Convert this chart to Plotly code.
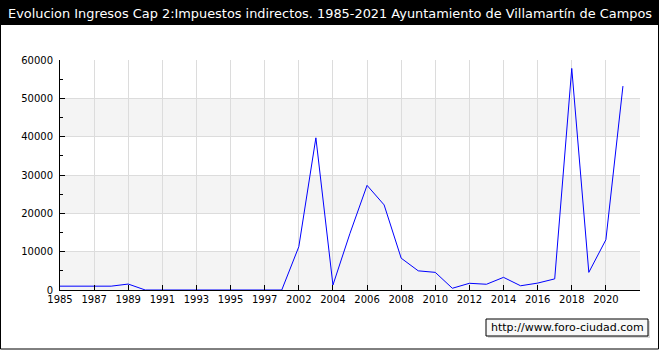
import plotly.graph_objects as go

# ---- data ----
years = ["1985", "1986", "1987", "1988", "1989", "1990", "1991", "1992", "1993",
         "1994", "1995", "1996", "1997", "2001", "2002", "2003", "2004", "2005",
         "2006", "2007", "2008", "2009", "2010", "2011", "2012", "2013", "2014",
         "2015", "2016", "2017", "2018", "2019", "2020", "2021"]
values = [1000, 1000, 1000, 1000, 1550, 0, 0, 0, 0,
          0, 0, 0, 0, 0, 11300, 39700, 1300, 14800,
          27300, 22200, 8300, 5000, 4600, 450, 1750, 1500, 3300,
          1100, 1800, 2900, 57800, 4600, 13100, 53200]
y_ticks = [0, 10000, 20000, 30000, 40000, 50000, 60000]
title_text = "Evolucion Ingresos Cap 2:Impuestos indirectos. 1985-2021 Ayuntamiento de Villamartín de Campos"
watermark = "http://www.foro-ciudad.com"

# ---- layout geometry ----
W, H = 660, 350
L, R, T, B = 60, 20, 60, 60
PW, PH = W - L - R, H - T - B


def px(x):
    return (x - L) / PW


def py(y):
    return (H - B - y) / PH


xs = list(range(len(years)))
tickvals = list(range(0, len(years) + 1, 2))
ticktext = [years[i] if i < len(years) else "" for i in tickvals]

fig = go.Figure()
fig.add_trace(go.Scatter(x=xs, y=values, mode="lines",
                         line=dict(color="#0000ff", width=1),
                         hoverinfo="skip", showlegend=False))

shapes = []
# alternating bands
for i in range(0, len(y_ticks) - 1, 2):
    shapes.append(dict(type="rect", xref="x domain", yref="y",
                       x0=0, x1=1, y0=y_ticks[i], y1=y_ticks[i + 1],
                       fillcolor="#f4f4f4", line=dict(width=0), layer="below"))
# title bar
shapes.append(dict(type="rect", xref="paper", yref="paper",
                   x0=px(0), x1=px(659), y0=py(0), y1=py(25),
                   fillcolor="black", line=dict(width=0), layer="below"))
# outer frame
shapes.append(dict(type="rect", xref="paper", yref="paper",
                   x0=px(0.5), x1=px(658.5), y0=py(0.5), y1=py(349),
                   fillcolor="rgba(0,0,0,0)", line=dict(color="black", width=1)))
# watermark shadow and box
shapes.append(dict(type="rect", xref="paper", yref="paper",
                   x0=px(488), x1=px(650), y0=py(321), y1=py(338),
                   fillcolor="#d8d8d8", line=dict(width=0)))
shapes.append(dict(type="rect", xref="paper", yref="paper",
                   x0=px(486), x1=px(648), y0=py(319), y1=py(336),
                   fillcolor="#f8f8f8", line=dict(color="black", width=1)))

annotations = [
    dict(text=title_text, xref="paper", yref="paper", x=px(329.5), y=py(13),
         xanchor="center", yanchor="middle", showarrow=False,
         font=dict(family="DejaVu Sans", size=12.9, color="white")),
    dict(text=watermark, xref="paper", yref="paper", x=px(567), y=py(327.5),
         xanchor="center", yanchor="middle", showarrow=False,
         font=dict(family="DejaVu Sans", size=11, color="black")),
]

fig.update_layout(
    width=W, height=H,
    margin=dict(l=L, r=R, t=T, b=B),
    paper_bgcolor="white", plot_bgcolor="white",
    shapes=shapes, annotations=annotations,
    font=dict(family="DejaVu Sans", size=10, color="black"),
    showlegend=False,
)
fig.update_xaxes(range=[0, len(years)], tickmode="array", tickvals=tickvals,
                 ticktext=ticktext, ticks="inside", ticklen=5, tickcolor="black",
                 showgrid=True, gridcolor="#dcdcdc", gridwidth=1,
                 showline=True, linecolor="black", linewidth=1,
                 zeroline=False, tickfont=dict(size=10), fixedrange=True)
fig.update_yaxes(range=[0, 60000], tickmode="array", tickvals=y_ticks,
                 ticktext=[str(v) for v in y_ticks],
                 ticks="inside", ticklen=5, tickcolor="black",
                 minor=dict(dtick=5000, ticks="inside", ticklen=3,
                            tickcolor="black", showgrid=False),
                 showgrid=True, gridcolor="#dcdcdc", gridwidth=1,
                 showline=True, linecolor="black", linewidth=1,
                 zeroline=False, tickfont=dict(size=10), ticklabelstandoff=4,
                 fixedrange=True)

fig.write_html("out.html", config={"displayModeBar": False})
